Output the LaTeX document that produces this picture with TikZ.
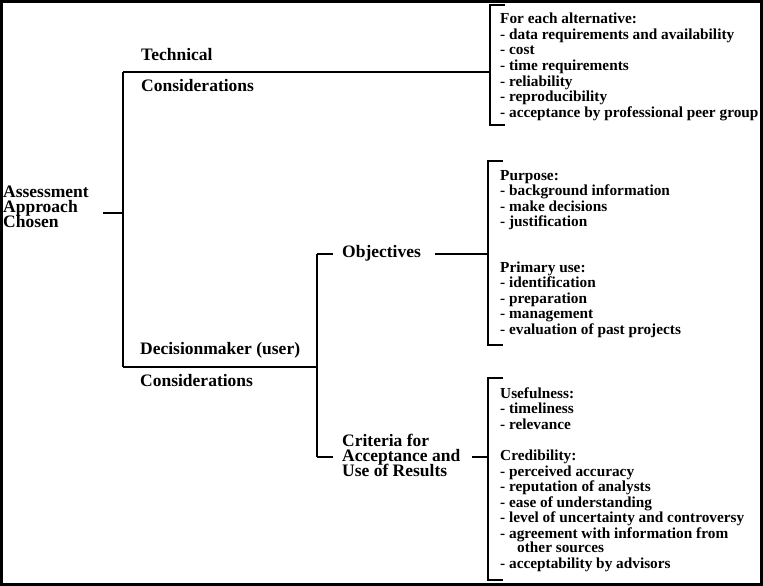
\documentclass[tikz,border=0pt]{standalone}
\usepackage{fontspec}
\setmainfont{Liberation Serif}
\newcommand\lblfont{\fontsize{17.5}{15.5}\selectfont\bfseries}
\newcommand\itmfont{\fontsize{15.3}{15.5}\selectfont\bfseries}
\begin{document}
\begin{tikzpicture}[x=1pt,y=-1pt,
  lbl/.style={font=\lblfont,inner sep=0pt,anchor=base west,text height=11pt,text depth=3pt},
  itm/.style={font=\itmfont,inner sep=0pt,anchor=base west,text height=10.5pt,text depth=3pt},
  conn/.style={line width=1.8pt},
  brk/.style={line width=1.8pt}]
\useasboundingbox (0,0) rectangle (763,586);
\draw[line width=3pt] (1.5,1.5) rectangle (761.8,584.5);

% main labels
\node[lbl] (as1) at (3,197) {Assessment};
\node[lbl] (as2) at (3,212) {Approach};
\node[lbl] (as3) at (3,227) {Chosen};
\node[lbl] (tech) at (141,61) {Technical};
\node[lbl] (techc) at (141,92) {Considerations};
\node[lbl] (dec) at (140,354) {Decisionmaker (user)};
\node[lbl] (decc) at (140,386) {Considerations};
\node[lbl] (obj) at (342,257) {Objectives};
\node[lbl] (cr1) at (342,446) {Criteria for};
\node[lbl] (cr2) at (342,461) {Acceptance and};
\node[lbl] (cr3) at (342,476) {Use of Results};

% junction coordinates
\coordinate (rootout) at (103,213);
\coordinate (j1) at (123,213);
\coordinate (j1t) at (123,72);
\coordinate (j1b) at (123,367);
\coordinate (j2) at (317,367);
\coordinate (j2t) at (317,254);
\coordinate (j2b) at (317,457);
\coordinate (objin) at (333,254);
\coordinate (crin) at (333,457);
\coordinate (objout) at (435,254);
\coordinate (crout) at (472,457);

% bracket coordinates
\coordinate (b1) at (490,72);
\coordinate (b1t) at (490,5);
\coordinate (b1te) at (505,5);
\coordinate (b1b) at (490,125);
\coordinate (b1be) at (505,125);
\coordinate (b2) at (488,254);
\coordinate (b2t) at (488,161);
\coordinate (b2te) at (503,161);
\coordinate (b2b) at (488,345);
\coordinate (b2be) at (503,345);
\coordinate (b3) at (488,457);
\coordinate (b3t) at (488,378);
\coordinate (b3te) at (503,378);
\coordinate (b3b) at (488,580);
\coordinate (b3be) at (503,580);

% connectors
\draw[conn] (rootout) -- (j1);
\draw[conn] (j1t) -- (j1b);
\draw[conn] (j1t) -- (b1);
\draw[conn] (j1b) -- (j2);
\draw[conn] (j2t) -- (j2b);
\draw[conn] (j2t) -- (objin);
\draw[conn] (j2b) -- (crin);
\draw[conn] (objout) -- (b2);
\draw[conn] (crout) -- (b3);

% brackets
\draw[brk] (b1te) -- (b1t) -- (b1b) -- (b1be);
\draw[brk] (b2te) -- (b2t) -- (b2b) -- (b2be);
\draw[brk] (b3te) -- (b3t) -- (b3b) -- (b3be);

% bracket texts
\foreach \yy/\txt [count=\i] in {24/For each alternative:,
  39.5/- data requirements and availability,
  55/- cost,
  70.5/- time requirements,
  86/- reliability,
  101.5/- reproducibility,
  117/- acceptance by professional peer group}
  \node[itm] (ta\i) at (500,\yy) {\txt};

\foreach \yy/\txt [count=\i] in {180/Purpose:,
  195.5/- background information,
  211/- make decisions,
  226.5/- justification,
  272/Primary use:,
  287.5/- identification,
  303/- preparation,
  318.5/- management,
  334/- evaluation of past projects}
  \node[itm] (tb\i) at (500,\yy) {\txt};

\foreach \yy/\txt [count=\i] in {398/Usefulness:,
  413.5/- timeliness,
  429/- relevance,
  460/Credibility:,
  476/- perceived accuracy,
  491.5/- reputation of analysts,
  507/- ease of understanding,
  522.5/- level of uncertainty and controversy,
  538/- agreement with information from,
  568/- acceptability by advisors}
  \node[itm] (tc\i) at (500,\yy) {\txt};
\node[itm] (tcx) at (517,552) {other sources};
\end{tikzpicture}
\end{document}
